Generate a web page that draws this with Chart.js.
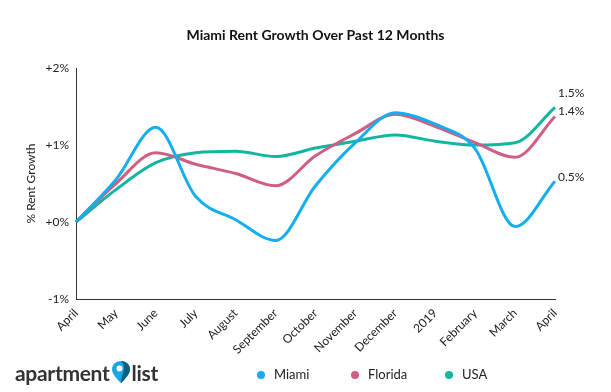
<!DOCTYPE html>
<html><head><meta charset="utf-8">
<script src="https://cdn.jsdelivr.net/npm/chart.js@4.4.1/dist/chart.umd.min.js"></script>
<style>
html,body{margin:0;padding:0;background:#fff;}
#wrap{position:relative;width:611px;height:392px;overflow:hidden;font-family:Lato,"Noto Sans",sans-serif;}
#c{position:absolute;left:0;top:0;}
#title{position:absolute;left:10px;width:611px;top:26px;text-align:center;font-weight:700;font-size:14px;color:#111;}
.leg{position:absolute;top:366px;font-size:13px;color:#222;}
.dot{display:inline-block;width:8px;height:8px;border-radius:50%;margin-right:9px;vertical-align:0px;}
#logo{position:absolute;left:15px;top:360px;font-weight:700;font-size:21px;color:#333;letter-spacing:-0.3px;}
</style></head><body>
<div id="wrap">
<canvas id="c" width="611" height="392"></canvas>
<div id="title">Miami Rent Growth Over Past 12 Months</div>
<div id="logo">apartment<svg width="20" height="24" viewBox="0 0 20 24" style="vertical-align:-3px;margin:0 1px"><path d="M10 1 C4.5 1 1 5 1 9.5 C1 15 10 23 10 23 C10 23 19 15 19 9.5 C19 5 15.5 1 10 1 Z" fill="#1aa6e0"/><path d="M10 23 C10 23 19 15 19 9.5 C19 5 15.5 1 10 1 C13 4 14 8 12 13 C11 16 10 20 10 23 Z" fill="#0d5f86"/><circle cx="8.5" cy="8.5" r="3" fill="#fff"/></svg>list</div>
<div class="leg" style="left:257px"><span class="dot" style="background:#13AEEF"></span>Miami</div>
<div class="leg" style="left:351px"><span class="dot" style="background:#CF5E83"></span>Florida</div>
<div class="leg" style="left:445px"><span class="dot" style="background:#12B5A0"></span>USA</div>
</div>
<script>
const months = ["April","May","June","July","August","September","October","November","December","2019","February","March","April"];
const miami   = [0, 0.55, 1.23, 0.33, 0.03, -0.24, 0.47, 1.03, 1.42, 1.27, 0.95, -0.06, 0.53];
const florida = [0, 0.50, 0.90, 0.75, 0.63, 0.47, 0.86, 1.15, 1.40, 1.24, 1.03, 0.84, 1.37];
const usa     = [0, 0.42, 0.77, 0.90, 0.92, 0.85, 0.96, 1.05, 1.13, 1.05, 1.00, 1.03, 1.49];
const yTicks  = [-1, 0, 1, 2];
const yTickLabels = ["-1%", "+0%", "+1%", "+2%"];
const endLabels = ["0.5%", "1.4%", "1.5%"];

const endLabelPlugin = {
  id: 'endLabels',
  afterDatasetsDraw(chart) {
    const ctx = chart.ctx;
    const offs = [-4, -5, -14];
    ctx.save();
    ctx.font = '12px Lato, "Noto Sans", sans-serif';
    ctx.fillStyle = '#222';
    ctx.textAlign = 'left';
    ctx.textBaseline = 'middle';
    chart.data.datasets.forEach((ds, i) => {
      const meta = chart.getDatasetMeta(i);
      const p = meta.data[meta.data.length - 1];
      ctx.fillText(endLabels[i], p.x + 3, p.y + offs[i]);
    });
    ctx.restore();
  }
};

const common = {borderWidth: 3, pointRadius: 0, tension: 0.4, cubicInterpolationMode: 'monotone', fill: false};
new Chart(document.getElementById('c'), {
  type: 'line',
  data: {
    labels: months,
    datasets: [
      Object.assign({label: 'Miami', data: miami, borderColor: '#13AEEF', backgroundColor: '#13AEEF', order: 0}, common),
      Object.assign({label: 'Florida', data: florida, borderColor: '#CF5E83', backgroundColor: '#CF5E83', order: 1}, common),
      Object.assign({label: 'USA', data: usa, borderColor: '#12B5A0', backgroundColor: '#12B5A0', order: 2}, common)
    ]
  },
  options: {
    responsive: false,
    animation: false,
    layout: {padding: {left: 24, right: 56, top: 68, bottom: 0}},
    plugins: {legend: {display: false}, title: {display: false}, tooltip: {enabled: false}},
    scales: {
      x: {
        grid: {display: false, drawTicks: true, tickLength: 5, color: '#333'},
        border: {color: '#333', width: 1},
        ticks: {maxRotation: 45, minRotation: 45, autoSkip: false, color: '#222', font: {family: 'Lato, "Noto Sans", sans-serif', size: 12}, padding: 2},
        afterFit(s) { s.height = 93; }
      },
      y: {
        min: -1, max: 2,
        afterBuildTicks(s) { s.ticks = yTicks.map(v => ({value: v})); },
        grid: {display: false, drawTicks: true, tickLength: 5, color: '#333'},
        border: {color: '#333', width: 1},
        ticks: {color: '#222', font: {family: 'Lato, "Noto Sans", sans-serif', size: 12}, padding: 2,
          callback(v) { const i = yTicks.indexOf(v); return i >= 0 ? yTickLabels[i] : ''; }},
        title: {display: true, text: '% Rent Growth', color: '#222', font: {family: 'Lato, "Noto Sans", sans-serif', size: 12}, padding: {top: 0, bottom: 0}},
        afterFit(s) { s.width = 52; }
      }
    }
  },
  plugins: [endLabelPlugin]
});
</script>
</body></html>
